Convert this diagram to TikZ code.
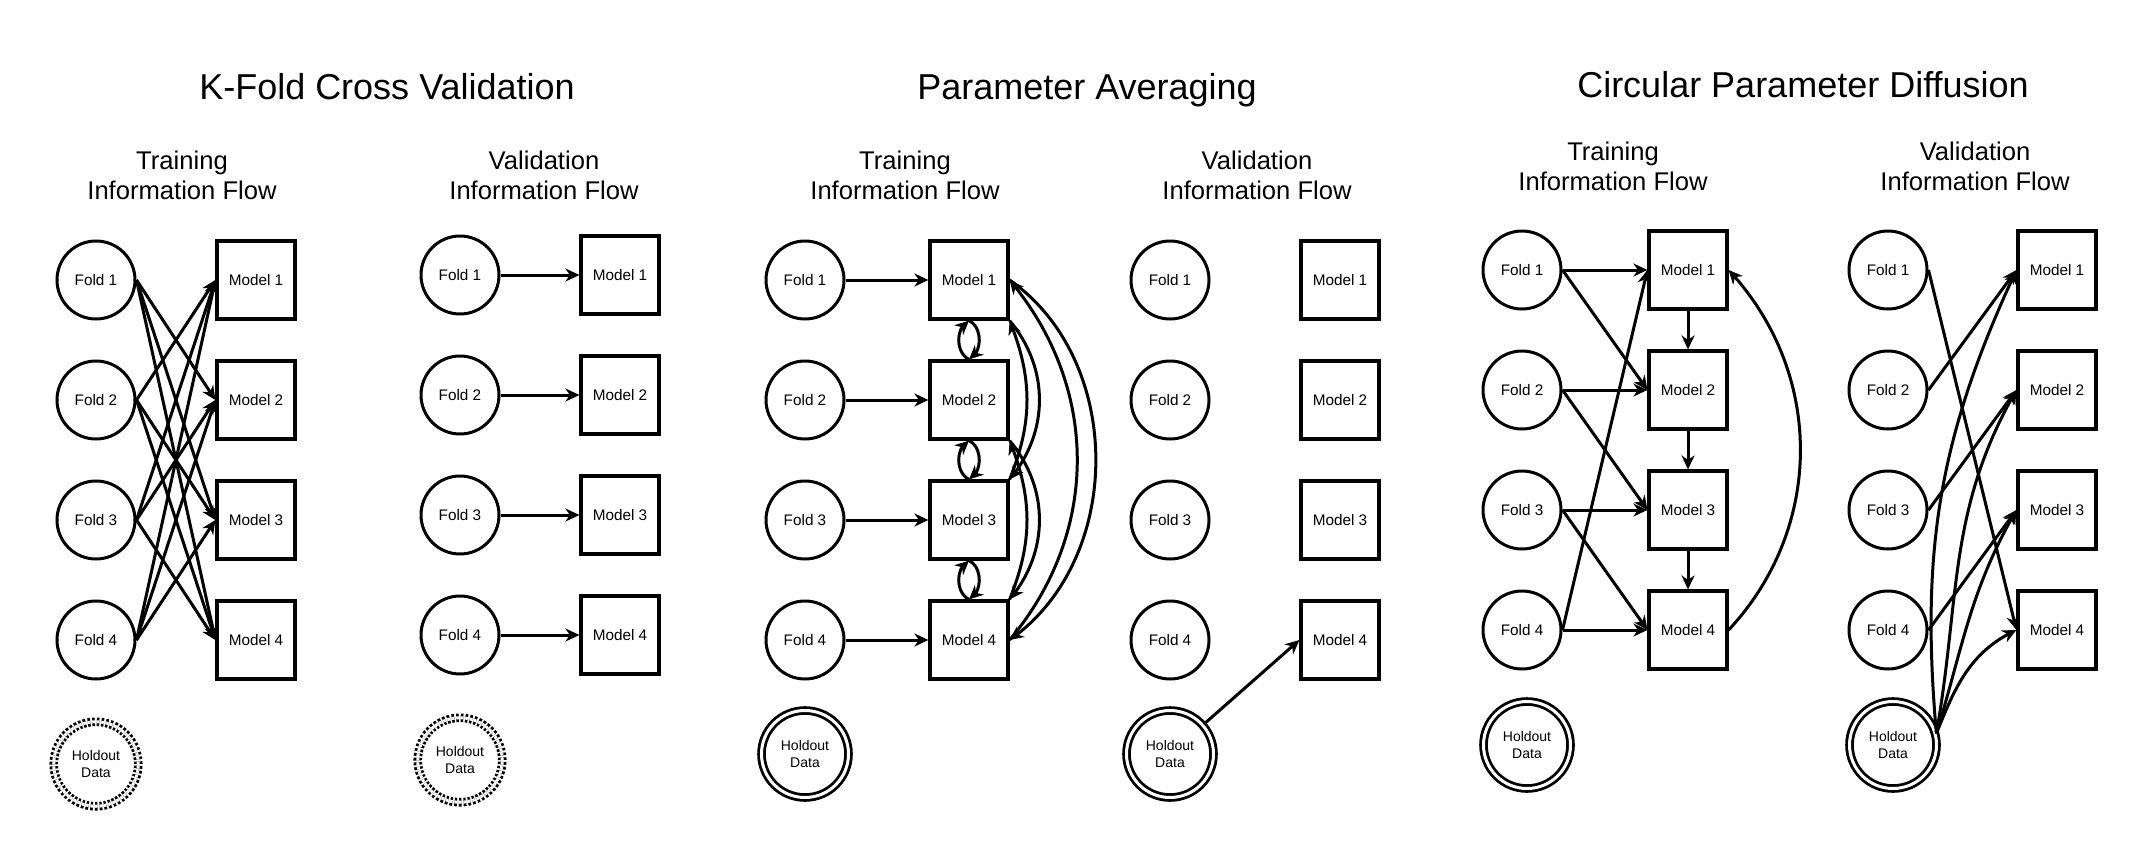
\documentclass[tikz,border=0pt]{standalone}
\usepackage{fontspec}
\setmainfont{Liberation Sans}
\usetikzlibrary{arrows.meta,bending}

\tikzset{
 fold/.style={circle, draw, line width=3pt, minimum size=78pt, inner sep=0pt, font=\fontsize{15.3}{18}\selectfont},
 model/.style={rectangle, draw, line width=3.2pt, minimum size=78pt, inner sep=0pt, font=\fontsize{15.3}{18}\selectfont},
 holdd/.style={circle, draw, double, double distance=3pt, line width=2.8pt, minimum size=87pt, inner sep=0pt, align=center, font=\fontsize{14}{16.5}\selectfont},
 holddot/.style={holdd, dash pattern=on 2.6pt off 1.9pt, line width=2.8pt, double distance=3pt, minimum size=84.5pt},
 arr/.style={line width=3pt, -{Stealth[length=14pt,width=13pt,inset=4.5pt]}},
 ttl/.style={font=\fontsize{36}{43}\selectfont, anchor=base},
 sub/.style={font=\fontsize{25.6}{30}\selectfont, align=center},
}

\begin{document}
\begin{tikzpicture}[x=1pt,y=1pt]
\useasboundingbox (0,0) rectangle (2149,-862);

% titles
\node[ttl] (t1) at (387,-99) {K-Fold Cross Validation};
\node[ttl] (t2) at (1087,-99) {Parameter Averaging};
\node[ttl] (t3) at (1803,-97) {Circular Parameter Diffusion};

\node[sub] (s1t) at (182,-175) {Training\\Information Flow};
\node[sub] (s1v) at (544,-175) {Validation\\Information Flow};
\node[sub] (s2t) at (905,-175) {Training\\Information Flow};
\node[sub] (s2v) at (1257,-175) {Validation\\Information Flow};
\node[sub] (s3t) at (1613,-166) {Training\\Information Flow};
\node[sub] (s3v) at (1975,-166) {Validation\\Information Flow};

% nodes
\foreach \i in {1,...,4} {
  \node[fold]  (p1tf\i) at (96,{-280-120*(\i-1)}) {Fold \i};
  \node[model] (p1tm\i) at (256,{-280-120*(\i-1)}) {Model \i};
  \node[fold]  (p1vf\i) at (460,{-275-120*(\i-1)}) {Fold \i};
  \node[model] (p1vm\i) at (620,{-275-120*(\i-1)}) {Model \i};
  \node[fold]  (p2tf\i) at (805,{-280-120*(\i-1)}) {Fold \i};
  \node[model] (p2tm\i) at (969,{-280-120*(\i-1)}) {Model \i};
  \node[fold]  (p2vf\i) at (1170,{-280-120*(\i-1)}) {Fold \i};
  \node[model] (p2vm\i) at (1340,{-280-120*(\i-1)}) {Model \i};
  \node[fold]  (p3tf\i) at (1522,{-270-120*(\i-1)}) {Fold \i};
  \node[model] (p3tm\i) at (1688,{-270-120*(\i-1)}) {Model \i};
  \node[fold]  (p3vf\i) at (1888,{-270-120*(\i-1)}) {Fold \i};
  \node[model] (p3vm\i) at (2057,{-270-120*(\i-1)}) {Model \i};
}
\node[holddot] (p1th) at (96,-764) {Holdout\\Data};
\node[holddot] (p1vh) at (460,-760) {Holdout\\Data};
\node[holdd] (p2th) at (805,-754) {Holdout\\Data};
\node[holdd] (p2vh) at (1170,-754) {Holdout\\Data};
\node[holdd] (p3th) at (1527,-745) {Holdout\\Data};
\node[holdd] (p3vh) at (1893,-745) {Holdout\\Data};

% panel 1
\foreach \i in {1,...,4} {
  \foreach \j in {1,...,4} {
    \ifnum\i=\j\relax\else \draw[arr] (p1tf\i.east) -- (p1tm\j.west);\fi
  }
  \draw[arr] (p1vf\i.east) -- (p1vm\i.west);
}

% panel 2
\foreach \i in {1,...,4} \draw[arr] (p2tf\i.east) -- (p2tm\i.west);
\foreach \i/\j in {1/2,2/3,3/4} {
  \draw[arr] (p2tm\j.north) to[bend left=65] (p2tm\i.south);
  \draw[arr] (p2tm\i.south) to[bend left=65] (p2tm\j.north);
}
\draw[arr] (p2tm1.east) to[bend left=55] (p2tm4.east);
\draw[arr] (p2tm4.east) to[bend right=40] (p2tm1.east);
\draw[arr] (p2tm1.south east) to[bend left=40] (p2tm3.north east);
\draw[arr] (p2tm3.north east) to[bend right=22] (p2tm1.south east);
\draw[arr] (p2tm2.south east) to[bend left=40] (p2tm4.north east);
\draw[arr] (p2tm4.north east) to[bend right=22] (p2tm2.south east);
\draw[arr] (p2vh) -- (p2vm4.west);

% panel 3
\foreach \i in {1,...,4} \draw[arr] (p3tf\i.east) -- (p3tm\i.west);
\draw[arr] (p3tf1.east) -- (p3tm2.west);
\draw[arr] (p3tf2.east) -- (p3tm3.west);
\draw[arr] (p3tf3.east) -- (p3tm4.west);
\draw[arr] (p3tf4.east) -- (p3tm1.west);
\foreach \i/\j in {1/2,2/3,3/4} \draw[arr] (p3tm\i.south) -- (p3tm\j.north);
\draw[arr] (p3tm4.east) to[bend right=43] (p3tm1.east);

\draw[arr] (p3vf1.east) -- (p3vm4.west);
\draw[arr] (p3vf2.east) -- (p3vm1.west);
\draw[arr] (p3vf3.east) -- (p3vm2.west);
\draw[arr] (p3vf4.east) -- (p3vm3.west);
\draw[arr] (p3vh.15) to[out=95,in=245] (p3vm1.west);
\draw[arr] (p3vh.15) to[out=80,in=240] (p3vm2.west);
\draw[arr] (p3vh.15) to[out=73,in=240] (p3vm3.west);
\draw[arr] (p3vh.15) to[out=68,in=205] (p3vm4.west);
\end{tikzpicture}
\end{document}
